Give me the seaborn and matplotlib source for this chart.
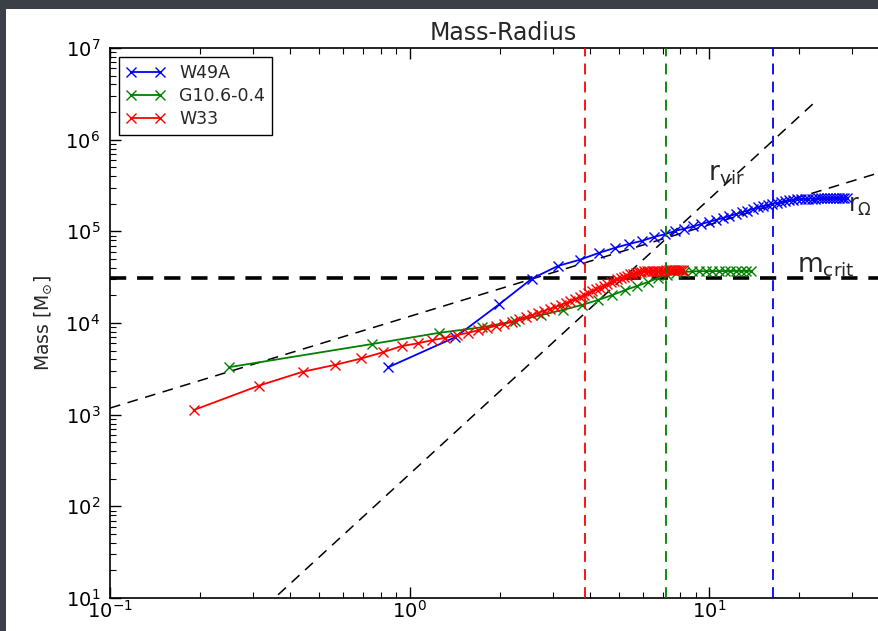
import matplotlib
matplotlib.use("Agg")
import numpy as np
import pandas as pd
import matplotlib.pyplot as plt
import seaborn as sns
from matplotlib.patches import Rectangle

# ---------------- data ----------------
w49a_r = [0.85, 1.42, 1.99, 2.56, 3.13, 3.70, 4.27, 4.84, 5.41, 5.98,
          6.55, 7.12, 7.69, 8.26, 8.83, 9.40, 9.97, 10.54, 11.11, 11.68,
          12.25, 12.82, 13.39, 13.96, 14.53, 15.10, 15.67, 16.24, 16.81, 17.38,
          17.95, 18.52, 19.09, 19.66, 20.23, 20.80, 21.37, 21.94, 22.51, 23.08,
          23.65, 24.22, 24.79, 25.36, 25.93, 26.50, 27.07, 27.64, 28.21, 28.78]
w49a_m = [3.3e3, 7.0e3, 1.6e4, 3.05e4, 4.2e4, 4.9e4, 5.8e4, 6.6e4, 7.3e4, 7.9e4,
          8.7e4, 9.3e4, 1.01e5, 1.07e5, 1.13e5, 1.20e5, 1.27e5, 1.33e5, 1.40e5, 1.47e5,
          1.54e5, 1.61e5, 1.68e5, 1.75e5, 1.82e5, 1.88e5, 1.94e5, 1.99e5, 2.04e5, 2.09e5,
          2.13e5, 2.17e5, 2.20e5, 2.23e5, 2.25e5, 2.26e5, 2.27e5, 2.28e5, 2.28e5, 2.29e5,
          2.29e5, 2.29e5, 2.30e5, 2.30e5, 2.30e5, 2.30e5, 2.30e5, 2.30e5, 2.30e5, 2.30e5]

g106_r = [0.25, 0.75, 1.25, 1.75, 2.25, 2.75, 3.25, 3.75, 4.25, 4.75,
          5.25, 5.75, 6.25, 6.75, 7.25, 7.75, 8.25, 8.75, 9.25, 9.75,
          10.25, 10.75, 11.25, 11.75, 12.25, 12.75, 13.25, 13.75]
g106_m = [3.3e3, 5.9e3, 7.8e3, 9.0e3, 1.05e4, 1.22e4, 1.39e4, 1.57e4, 1.78e4, 2.02e4,
          2.29e4, 2.54e4, 2.80e4, 3.10e4, 3.34e4, 3.51e4, 3.60e4, 3.65e4, 3.67e4, 3.68e4,
          3.68e4, 3.69e4, 3.69e4, 3.69e4, 3.70e4, 3.70e4, 3.70e4, 3.70e4]

w33_r = [0.19, 0.315, 0.44, 0.565, 0.69, 0.815, 0.94, 1.065, 1.19, 1.315,
         1.44, 1.565, 1.69, 1.815, 1.94, 2.065, 2.19, 2.315, 2.44, 2.565,
         2.69, 2.815, 2.94, 3.065, 3.19, 3.315, 3.44, 3.565, 3.69, 3.815,
         3.94, 4.065, 4.19, 4.315, 4.44, 4.565, 4.69, 4.815, 4.94, 5.065,
         5.19, 5.315, 5.44, 5.565, 5.69, 5.815, 5.94, 6.065, 6.19, 6.315,
         6.44, 6.565, 6.69, 6.815, 6.94, 7.065, 7.19, 7.315, 7.44, 7.565,
         7.69, 7.815, 7.94, 8.065, 8.19]
w33_m = [1.12e3, 2.08e3, 2.94e3, 3.5e3, 4.1e3, 4.8e3,
         5.6e3, 6.0e3, 6.5e3, 6.9e3, 7.4e3, 7.8e3, 8.3e3, 8.8e3, 9.3e3, 9.7e3,
         1.03e4, 1.10e4, 1.16e4, 1.22e4, 1.29e4, 1.36e4, 1.43e4, 1.50e4, 1.58e4, 1.65e4,
         1.73e4, 1.82e4, 1.91e4, 2.00e4, 2.10e4, 2.21e4, 2.32e4, 2.43e4, 2.54e4, 2.65e4,
         2.77e4, 2.88e4, 2.99e4, 3.09e4, 3.18e4, 3.29e4, 3.39e4, 3.46e4, 3.51e4, 3.56e4,
         3.61e4, 3.66e4, 3.69e4,
         3.70e4, 3.71e4, 3.71e4, 3.72e4, 3.72e4, 3.73e4, 3.73e4, 3.74e4,
         3.74e4, 3.75e4, 3.75e4, 3.75e4, 3.76e4, 3.76e4, 3.76e4, 3.76e4]

series_names = ["W49A", "G10.6-0.4", "W33"]
series_colors = ["#0000ff", "#008000", "#ff0000"]
series_r = [w49a_r, g106_r, w33_r]
series_m = [w49a_m, g106_m, w33_m]

# characteristic radii (vertical lines) and critical mass
r_lines = [3.86, 7.19, 16.3]          # W33, G10.6-0.4, W49A
r_line_colors = ["#ff0000", "#008000", "#0000ff"]
m_crit = 3.1e4

# guide relations M = k * r^p
rvir_k, rvir_p, rvir_rmax = 225.0, 3.0, 23.5
rom_k, rom_p = 1.18e4, 1.0

# ---------------- style ----------------
sns.set_style("ticks")
plt.rcParams["font.family"] = ["DejaVu Sans"]
plt.rcParams["mathtext.fontset"] = "dejavusans"

W, H = 879, 631
fig = plt.figure(figsize=(W / 100, H / 100), dpi=100)
fig.patch.set_facecolor("#3b3f47")
fig.patches.append(Rectangle((6 / W, 0), 1, (H - 9) / H, transform=fig.transFigure,
                             facecolor="white", edgecolor="none", zorder=-10))

ax_left, ax_right_px, ax_top, ax_bot = 110, 896, 48, 598
ax = fig.add_axes([ax_left / W, (H - ax_bot) / H, (ax_right_px - ax_left) / W,
                   (ax_bot - ax_top) / H])
ax.set_facecolor("white")
ax.set_xscale("log")
ax.set_yscale("log")
ax.set_xlim(0.1, 42)
ax.set_ylim(10, 1e7)

# guide lines
r_grid = np.logspace(-1, np.log10(42), 200)
r_vir_grid = r_grid[r_grid <= rvir_rmax]
ax.plot(r_vir_grid, rvir_k * r_vir_grid ** rvir_p, color="black", lw=1.1,
        ls=(0, (7, 5)), zorder=2)
ax.plot(r_grid, rom_k * r_grid ** rom_p, color="black", lw=1.1,
        ls=(0, (7, 5)), zorder=2)
ax.axhline(m_crit, color="black", lw=2.6, ls=(0, (4.5, 3)), zorder=2)

for rv, c in zip(r_lines, r_line_colors):
    ax.axvline(rv, color=c, lw=1.3, ls=(0, (6, 4)), zorder=5)

# data series
for name, c, rr, mm in zip(series_names, series_colors, series_r, series_m):
    df = pd.DataFrame({"r": rr, "M": mm})
    sns.lineplot(data=df, x="r", y="M", ax=ax, color=c, lw=1.3, marker="x",
                 markersize=7, markeredgewidth=1.0, markeredgecolor=c,
                 sort=False, estimator=None, label=name, zorder=4)

# annotations
ax.text(9.9, 3.6e5, r"$\mathrm{r_{vir}}$", fontsize=19, ha="left", va="baseline")
ax.text(19.7, 3.6e4, r"$\mathrm{m_{crit}}$", fontsize=19, ha="left", va="baseline")
ax.text(29.0, 1.63e5, r"$\mathrm{r_{\Omega}}$", fontsize=17, ha="left", va="baseline")

ax.set_title("Mass-Radius", fontsize=17, pad=6)
ax.set_ylabel(r"Mass [M$_{\odot}$]", fontsize=13.5, labelpad=8)
ax.set_xlabel("")

ax.tick_params(which="both", direction="in", top=True, right=True, colors="black")
ax.tick_params(which="major", length=8, width=1, labelsize=14)
ax.tick_params(which="minor", length=4, width=0.8)
ax.tick_params(axis="y", pad=7)
ax.tick_params(axis="x", pad=1.5)
for sp in ax.spines.values():
    sp.set_color("black")
    sp.set_linewidth(1.2)

leg = ax.legend(loc="upper left", fontsize=12.5, numpoints=2, handlelength=2.3,
                frameon=True, fancybox=False, framealpha=1, edgecolor="black",
                borderaxespad=0.5, borderpad=0.4, labelspacing=0.3)
leg.get_frame().set_linewidth(1.0)

fig.savefig("out.png", dpi=100, facecolor=fig.get_facecolor())
